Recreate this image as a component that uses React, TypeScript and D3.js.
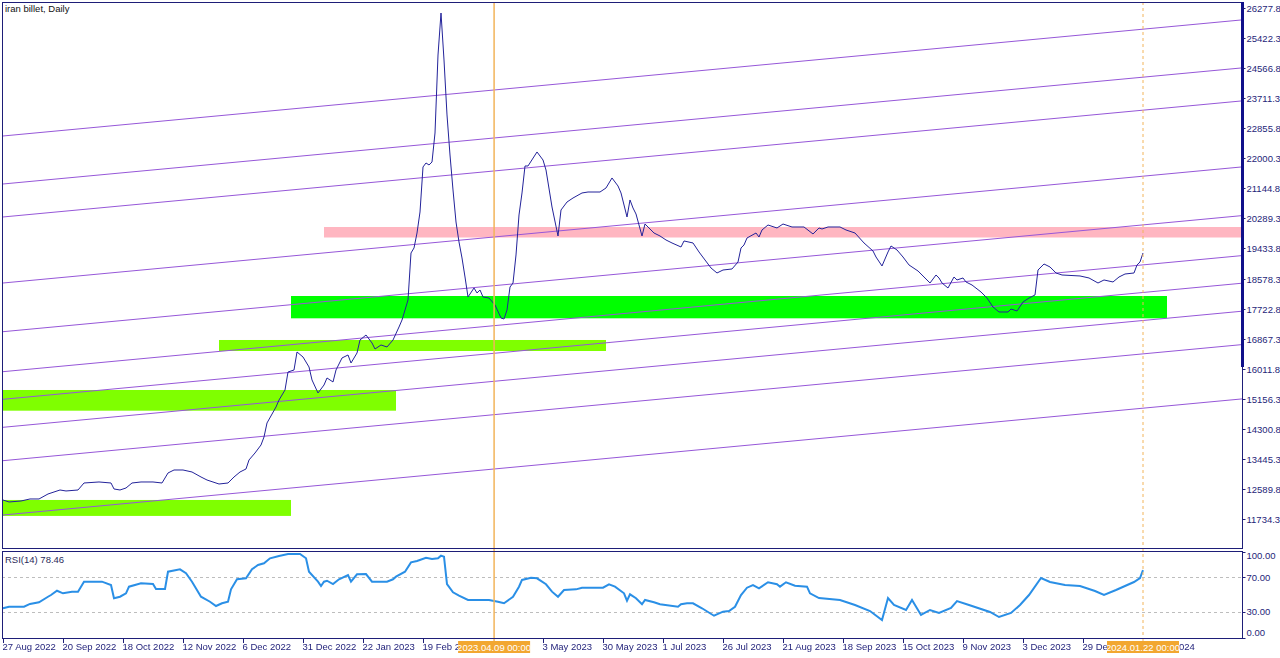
import * as d3 from 'd3';
import React from 'react';

// chart: iran billet daily with channel lines, S/R zones and RSI(14)
const title = 'iran billet, Daily';
const rsiTitle = 'RSI(14) 78.46';

// one label every 20 bars
const dateLabels = [
	'27 Aug 2022', '20 Sep 2022', '18 Oct 2022', '12 Nov 2022', '6 Dec 2022',
	'31 Dec 2022', '22 Jan 2023', '19 Feb 2023', '4 Apr 2023', '3 May 2023',
	'30 May 2023', '1 Jul 2023', '26 Jul 2023', '21 Aug 2023', '18 Sep 2023',
	'15 Oct 2023', '9 Nov 2023', '3 Dec 2023', '29 Dec 2023', '22 Jan 2024',
];

const priceTicks = [
	11734.3, 12589.8, 13445.3, 14300.8, 15156.3, 16011.8, 16867.3, 17722.8, 18578.3,
	19433.8, 20289.3, 21144.8, 22000.3, 22855.8, 23711.3, 24566.8, 25422.3, 26277.8,
];
const rsiTicks = [0, 30, 70, 100];
const rsiLevels = [30, 70];

const priceBars = [
	0, 2, 6, 9, 12, 15, 17, 19, 21, 25, 27, 32, 36, 37, 39, 41, 43, 46, 50, 53,
	55, 57, 60, 63, 66, 68, 72, 75, 77, 79, 81, 82, 84, 86, 87, 88, 91, 92, 94, 95,
	97, 98, 100, 102, 103, 105, 107, 108, 110, 111, 113, 115, 116, 118, 119, 121, 123, 124, 126, 128,
	130, 132, 133, 135, 136, 137, 138, 139, 140, 141, 142, 143, 144, 145, 146, 147, 148, 149, 150, 151,
	152, 153, 154, 155, 157, 158, 159, 160, 162, 164, 166, 167, 168, 169, 170, 171, 172, 173, 174, 175,
	178, 180, 181, 183, 185, 186, 188, 190, 193, 195, 199, 201, 203, 205, 206, 208, 209, 210, 211, 213,
	214, 215, 217, 219, 221, 223, 226, 227, 230, 232, 234, 236, 238, 240, 243, 245, 246, 247, 248, 251,
	252, 253, 255, 257, 258, 260, 263, 267, 270, 272, 273, 275, 279, 281, 284, 287, 290, 291, 293, 295,
	296, 298, 300, 302, 305, 307, 309, 311, 312, 313, 315, 317, 318, 320, 321, 323, 326, 328, 330, 332,
	335, 336, 338, 340, 342, 344, 345, 347, 349, 351, 353, 359, 362, 365, 367, 370, 372, 374, 377, 378,
	379, 380,
];
const priceValues = [
	12275, 12219, 12247, 12304, 12304, 12446, 12503, 12560, 12532, 12560, 12759, 12788, 12759, 12589, 12560, 12617, 12759, 12788, 12788, 12759,
	13044, 13129, 13129, 13072, 12930, 12844, 12730, 12759, 12930, 13072, 13158, 13414, 13613, 13841, 14068, 14467, 14922, 15121, 15406, 15918,
	15975, 16488, 16345, 16061, 15691, 15321, 15548, 15748, 15634, 15975, 16317, 16402, 16174, 16459, 16829, 16971, 16744, 16573, 16687, 16630,
	16829, 17199, 17398, 17967, 19305, 19448, 19874, 20472, 21753, 21867, 21810, 21895, 22720, 24940, 26135, 24798, 23233, 22094, 21098, 20187,
	19618, 19163, 18622, 18053, 18309, 18167, 18252, 18053, 18024, 17825, 17455, 17427, 17683, 18337, 18451, 19248, 20387, 21013, 21781, 21781,
	22180, 21952, 21667, 20614, 19789, 20529, 20756, 20870, 21013, 21041, 21041, 21155, 21440, 21212, 21013, 20330, 20814, 20586, 20415, 19789,
	20130, 20045, 19874, 19789, 19675, 19590, 19476, 19647, 19590, 19334, 19106, 18878, 18736, 18821, 18850, 19049, 19448, 19533, 19732, 19874,
	19760, 19960, 20102, 20045, 20017, 20130, 20045, 20045, 19846, 20017, 19988, 20045, 20045, 19960, 19874, 19590, 19362, 19191, 18935, 19334,
	19505, 19391, 19191, 18964, 18793, 18622, 18451, 18679, 18594, 18451, 18309, 18622, 18537, 18594, 18480, 18394, 18195, 18024, 17768, 17626,
	17626, 17711, 17654, 17910, 18024, 18110, 18821, 18992, 18907, 18736, 18679, 18651, 18594, 18451, 18537, 18480, 18622, 18707, 18736, 18964,
	19049, 19305,
];

const rsiBars = [
	0, 2, 7, 9, 12, 15, 16, 18, 20, 23, 25, 27, 33, 36, 37, 39, 41, 42, 46, 50,
	51, 54, 55, 59, 61, 63, 66, 69, 71, 73, 75, 76, 78, 81, 83, 85, 87, 89, 92, 95,
	99, 101, 102, 105, 106, 107, 108, 110, 112, 115, 116, 118, 121, 123, 128, 130, 131, 134, 136, 138,
	141, 143, 145, 146, 147, 148, 150, 152, 155, 162, 165, 167, 170, 172, 173, 176, 178, 181, 183, 185,
	187, 191, 193, 200, 202, 204, 207, 208, 209, 211, 213, 214, 217, 219, 225, 226, 228, 230, 233, 237,
	240, 242, 244, 246, 248, 250, 252, 255, 258, 259, 261, 264, 268, 269, 272, 279, 284, 289, 293, 295,
	297, 301, 303, 306, 309, 312, 316, 318, 322, 329, 332, 336, 339, 342, 346, 349, 354, 359, 364, 367,
	371, 374, 377, 379, 380,
];
const rsiValues = [
	34.0, 35.8, 35.8, 39.0, 40.9, 47.4, 49.4, 54.4, 51.4, 53.3, 53.3, 64.9, 64.9, 61.0, 45.6, 47.4, 51.4, 59.1, 63.0, 62.2,
	56.4, 56.4, 76.5, 79.3, 74.7, 64.9, 47.4, 41.6, 36.6, 39.8, 41.6, 56.0, 67.7, 68.8, 79.3, 84.3, 86.3, 92.1, 94.8, 97.1,
	97.1, 92.1, 76.5, 64.9, 59.9, 64.9, 66.0, 62.2, 67.7, 72.7, 64.9, 73.5, 73.8, 64.9, 64.9, 67.7, 70.7, 76.5, 87.4, 89.0,
	92.8, 91.3, 92.1, 95.1, 94.0, 62.2, 52.6, 48.6, 43.6, 43.6, 41.6, 39.8, 47.4, 59.1, 66.9, 69.5, 68.8, 61.9, 53.3, 47.4,
	55.2, 56.0, 57.9, 57.9, 61.9, 59.1, 51.4, 42.8, 50.2, 45.6, 38.6, 43.6, 40.9, 38.6, 35.8, 38.6, 39.8, 39.8, 34.0, 25.3,
	30.0, 30.8, 35.8, 49.4, 57.9, 61.0, 57.2, 64.2, 61.9, 59.1, 64.2, 60.2, 59.1, 51.4, 45.9, 43.6, 37.8, 30.8, 20.3, 45.9,
	37.8, 32.0, 43.6, 26.2, 32.0, 28.5, 34.3, 42.4, 37.8, 29.7, 23.8, 28.5, 37.8, 49.4, 69.2, 64.5, 61.0, 59.9, 54.1, 49.4,
	55.2, 59.9, 64.5, 69.2, 78.46,
];

// parallel channel lines: price at bar 0, common slope per bar
const channelBase = [22635, 21269, 20330, 18451, 17065, 15927, 15141, 14344, 13394, 11848];
const channelSlope = 8.0;

// rectangles: [from bar, to bar, high, low]
const resistanceZones = [[107, 420, 20045, 19746]];
const mainSupportZones = [[96, 388, 18081, 17446]];
const minorSupportZones = [
	[72, 201, 16829, 16516],
	[-5, 131, 15406, 14817],
	[-5, 96, 12276, 11822],
];

const markers = [
	{ bar: 163.7, label: '2023.04.09 00:00', dashed: false },
	{ bar: 380, label: '2024.01.22 00:00', dashed: true },
];

const W = 1280;
const H = 658;
const font = '"Liberation Sans", Arial, sans-serif';
const navy = '#1e1e78';
const boxHalf = 36;

export default function App() {
	const main = { left: 2, right: 1242, top: 2, bottom: 548 };
	const sub = { top: 551, bottom: 638 };

	const x = d3.scaleLinear().domain([0, 413]).range([3, 1242]);
	const y = d3.scaleLinear().domain([11734.3, 26277.8]).range([519, 8]);
	const yr = d3.scaleLinear().domain([0, 100]).range([637.5, 551.5]);

	const priceLine = d3
		.line<number>()
		.x((d, i) => x(priceBars[i]))
		.y(d => y(d))(priceValues);
	const rsiLine = d3
		.line<number>()
		.x((d, i) => x(rsiBars[i]))
		.y(d => yr(d))(rsiValues);

	const zoneRect = (z: number[], fill: string, k: number) => (
		<rect
			key={fill + k}
			x={x(z[0])}
			y={y(z[2])}
			width={x(z[1]) - x(z[0])}
			height={y(z[3]) - y(z[2])}
			fill={fill}
		/>
	);

	// labels that sit fully under a marker box are not drawn (as in the terminal)
	const hiddenLabel = (i: number) =>
		markers.some(m => {
			const tx = x(i * 20);
			return tx > x(m.bar) - boxHalf && tx + dateLabels[i].length * 4.3 < x(m.bar) + boxHalf;
		});

	return (
		<svg width={W} height={H} style={{ position: 'absolute', left: 0, top: 0, display: 'block' }} fontFamily={font} fontSize={9.5}>
			<defs>
				<clipPath id="mainClip">
					<rect x={main.left} y={main.top} width={main.right - main.left} height={main.bottom - main.top} />
				</clipPath>
				<clipPath id="subClip">
					<rect x={main.left} y={sub.top} width={main.right - main.left} height={sub.bottom - sub.top} />
				</clipPath>
				<mask id="dateMask">
					<rect width={W} height={H} fill="#fff" />
					{markers.map(m => (
						<rect key={'mm' + m.label} x={x(m.bar) - boxHalf} y={630} width={boxHalf * 2} height={28} fill="#000" />
					))}
				</mask>
			</defs>
			<rect width={W} height={H} fill="#fff" />

			<g clipPath="url(#mainClip)">
				{resistanceZones.map((z, k) => zoneRect(z, '#ffb6c1', k))}
				{mainSupportZones.map((z, k) => zoneRect(z, '#00ff00', k))}
				{minorSupportZones.map((z, k) => zoneRect(z, '#7fff00', k))}
				{channelBase.map((b, k) => (
					<line
						key={'ch' + k}
						x1={x(-2)}
						y1={y(b - 2 * channelSlope)}
						x2={x(415)}
						y2={y(b + 415 * channelSlope)}
						stroke="#9657d8"
						strokeWidth={1}
					/>
				))}
				<path d={priceLine || ''} fill="none" stroke="#23239a" strokeWidth={1} />
			</g>

			<g clipPath="url(#subClip)">
				{rsiLevels.map(l => (
					<line key={'lv' + l} x1={main.left} x2={main.right} y1={Math.round(yr(l)) + 0.5} y2={Math.round(yr(l)) + 0.5} stroke="#bdbdbd" strokeDasharray="3,3" />
				))}
				<path d={rsiLine || ''} fill="none" stroke="#2a8fe6" strokeWidth={2} />
			</g>

			{/* vertical time markers */}
			{markers.map(m => (
				<line
					key={'mk' + m.label}
					x1={x(m.bar)}
					x2={x(m.bar)}
					y1={main.top}
					y2={641}
					stroke="#f2b45a"
					strokeWidth={m.dashed ? 1 : 1.5}
					strokeDasharray={m.dashed ? '3,3' : undefined}
				/>
			))}

			{/* frames */}
			<rect x={main.left + 0.5} y={main.top + 0.5} width={main.right - main.left} height={main.bottom - main.top} fill="none" stroke={navy} />
			<rect x={main.left + 0.5} y={sub.top + 0.5} width={main.right - main.left} height={sub.bottom - sub.top} fill="none" stroke={navy} />
			<rect x={main.right - 1} y={main.top} width={3} height={365} fill="#10108a" />

			{/* price axis */}
			{priceTicks.map(t => (
				<g key={'pt' + t} transform={`translate(${main.right + 0.5},${Math.round(y(t)) + 0.5})`}>
					<line x1={0} x2={3} stroke={navy} />
					<text x={4} dy="0.35em" fill={navy}>
						{t.toFixed(1)}
					</text>
				</g>
			))}

			{/* rsi axis */}
			{rsiTicks.map(t => (
				<g key={'rt' + t}>
					<line x1={main.right + 0.5} x2={main.right + 3.5} y1={Math.round(yr(t)) + 0.5} y2={Math.round(yr(t)) + 0.5} stroke={navy} />
					<text x={main.right + 4.5} y={Math.min(633, Math.max(556, yr(t)))} dy="0.35em" fill={navy}>
						{t.toFixed(2)}
					</text>
				</g>
			))}

			{/* time axis */}
			<g mask="url(#dateMask)">
				{dateLabels.map((d, i) => (
					<g key={'dt' + i} transform={`translate(${Math.round(x(i * 20)) + 0.5},0)`}>
						<line y1={sub.bottom} y2={sub.bottom + 5} stroke={navy} />
						{!hiddenLabel(i) && (
							<text x={-1} y={650} fill={navy}>
								{d}
							</text>
						)}
					</g>
				))}
			</g>
			{markers.map(m => (
				<g key={'ml' + m.label} transform={`translate(${x(m.bar)},0)`}>
					<rect x={-boxHalf} y={641} width={boxHalf * 2} height={12} fill="#f2a730" />
					<text x={0} y={650.5} textAnchor="middle" fill="#fff">
						{m.label}
					</text>
				</g>
			))}

			<text x={5} y={12} fill="#111">
				{title}
			</text>
			<text x={5} y={563} fill="#2a2a5a">
				{rsiTitle}
			</text>
		</svg>
	);
}
